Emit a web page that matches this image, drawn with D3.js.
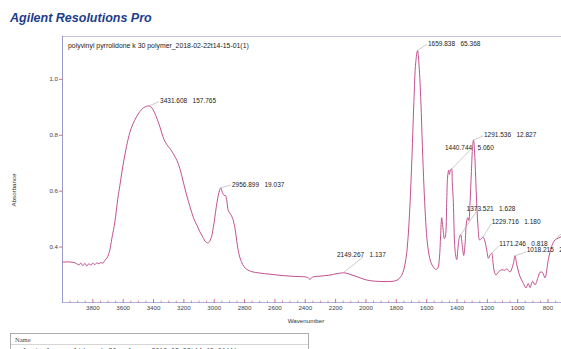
<!DOCTYPE html>
<html>
<head>
<meta charset="utf-8">
<script src="https://cdn.jsdelivr.net/npm/d3@7"></script>
<style>
  body { margin: 0; background: #fff; overflow: hidden; }
  svg { display: block; font-family: 'Liberation Sans', Arial, sans-serif; }
</style>
</head>
<body>
<div id="chart"></div>
<script>
// spectrum: wavenumber (cm-1) and absorbance
const wavenumber = [4004, 3965, 3925, 3905, 3892, 3879, 3866, 3853, 3840, 3826, 3813, 3800, 3787, 3774, 3760, 3747, 3734, 3721, 3708, 3698,
  3688, 3675, 3655, 3635, 3622, 3602, 3578, 3556, 3536, 3513, 3490, 3467, 3444, 3431, 3418, 3404, 3385, 3358, 3338, 3322,
  3306, 3286, 3266, 3246, 3226, 3207, 3184, 3160, 3137, 3114, 3095, 3075, 3055, 3039, 3022, 3006, 2986, 2969, 2957, 2946,
  2936, 2926, 2917, 2907, 2893, 2880, 2864, 2851, 2837, 2821, 2804, 2785, 2752, 2699, 2633, 2547, 2468, 2396, 2379, 2369,
  2359, 2343, 2303, 2237, 2191, 2149, 2125, 2092, 2053, 2013, 1974, 1908, 1842, 1802, 1776, 1756, 1736, 1723, 1710, 1697,
  1684, 1672, 1660, 1650, 1638, 1628, 1618, 1608, 1598, 1585, 1572, 1555, 1539, 1526, 1516, 1508, 1501, 1493, 1483,
  1476, 1468, 1462, 1455, 1450, 1443, 1436, 1431, 1424, 1413, 1402, 1393, 1386, 1376, 1366, 1356, 1347, 1337, 1329, 1322,
  1314, 1305, 1297, 1291, 1284, 1277, 1270, 1261, 1251, 1241, 1228, 1218, 1204, 1193, 1182, 1171, 1163, 1153, 1143, 1128,
  1105, 1084, 1071, 1051, 1029, 1018, 1005, 985, 963, 945, 930, 919, 901, 886, 864, 853, 837, 820, 798, 776,
  754, 732, 714, 694];
const absorbance = [0.346, 0.347, 0.345, 0.340, 0.336, 0.343, 0.333, 0.342, 0.332, 0.341, 0.335, 0.343, 0.337, 0.344, 0.340, 0.345, 0.342, 0.352, 0.360, 0.372,
  0.390, 0.430, 0.490, 0.575, 0.620, 0.690, 0.760, 0.810, 0.840, 0.865, 0.885, 0.898, 0.904, 0.905, 0.902, 0.892, 0.870, 0.830, 0.795, 0.775,
  0.762, 0.748, 0.730, 0.710, 0.680, 0.640, 0.590, 0.545, 0.505, 0.478, 0.455, 0.435, 0.418, 0.415, 0.430, 0.470, 0.545, 0.595, 0.612, 0.595,
  0.585, 0.585, 0.565, 0.530, 0.518, 0.505, 0.470, 0.420, 0.375, 0.348, 0.330, 0.320, 0.312, 0.307, 0.303, 0.298, 0.295, 0.293, 0.290, 0.284,
  0.290, 0.294, 0.296, 0.300, 0.305, 0.308, 0.306, 0.300, 0.293, 0.285, 0.280, 0.277, 0.277, 0.280, 0.290, 0.310, 0.360, 0.430, 0.550, 0.720,
  0.920, 1.060, 1.103, 1.050, 0.920, 0.760, 0.620, 0.510, 0.430, 0.375, 0.345, 0.328, 0.320, 0.325, 0.360, 0.440, 0.505, 0.470, 0.430,
  0.440, 0.556, 0.650, 0.675, 0.660, 0.676, 0.680, 0.630, 0.560, 0.390, 0.355, 0.400, 0.430, 0.445, 0.410, 0.370, 0.410, 0.490, 0.505, 0.495,
  0.560, 0.670, 0.760, 0.783, 0.740, 0.650, 0.556, 0.470, 0.425, 0.430, 0.435, 0.425, 0.390, 0.360, 0.372, 0.378, 0.345, 0.310, 0.300, 0.310,
  0.319, 0.317, 0.322, 0.311, 0.340, 0.369, 0.335, 0.295, 0.271, 0.254, 0.270, 0.255, 0.278, 0.265, 0.295, 0.310, 0.310, 0.290, 0.355, 0.402,
  0.426, 0.432, 0.437, 0.440];

// peak picks: position, height and the label text
const peakWave = [3431.608, 2956.899, 2149.267, 1659.838, 1440.744, 1291.536, 1373.521, 1229.716, 1171.246, 1018.215, 754];
const peakAbs = [0.905, 0.612, 0.308, 1.103, 0.676, 0.783, 0.445, 0.435, 0.378, 0.369, 0.426];
const peakArea = ['157.765', '19.037', '1.137', '65.368', '5.060', '12.827', '1.628', '1.180', '0.818', '2.046', '3.412'];

const xTicks = [3800, 3600, 3400, 3200, 3000, 2800, 2600, 2400, 2200, 2000, 1800, 1600, 1400, 1200, 1000, 800];
const yTicks = [0.4, 0.6, 0.8, 1.0];

const sampleName = 'polyvinyl pyrrolidone k 30 polymer_2018-02-22t14-15-01(1)';

// label placement relative to the peak point (pixels):
// leader end dx, dy, then text start dx and text middle dy
const labelOffsets = [[10.3, -4.2, 11.3, -4.9], [10.2, -2.8, 11.2, -3.3], [19.7, -15.8, -6.3, -18.5],
  [9.4, -6.4, 10.4, -6.9], [19.5, -20, -5.8, -22.6], [9.5, -4, 10.5, -5], [15, -22.5, 5.6, -26.2],
  [8.2, -13.3, 8.9, -15.6], [6.8, -7.2, 7.6, -9.2], [11.1, -3.8, 11.8, -5.8], [8, -7.8, 10, -9.8]];

const w = 561;
const h = 349;

const x = d3.scaleLinear().domain([4000, 700]).range([62.5, 563.2]);
const y = d3.scaleLinear().domain([0.2, 1.155]).range([303, 36]);

const svg = d3.select('#chart').append('svg')
    .attr('width', w)
    .attr('height', h);

// heading
svg.append('text')
    .attr('x', 10)
    .attr('y', 22)
    .attr('fill', '#1d3d8c')
    .attr('font-size', 12.5)
    .attr('font-weight', 'bold')
    .attr('font-style', 'italic')
    .text('Agilent Resolutions Pro');

svg.append('defs').append('clipPath').attr('id', 'plot')
    .append('rect')
    .attr('x', 62.5).attr('y', 36).attr('width', w - 62.5).attr('height', 267);

// frame
svg.append('line').attr('x1', 62.5).attr('x2', w).attr('y1', 36.5).attr('y2', 36.5)
    .attr('stroke', '#c4c4e2');
svg.append('line').attr('x1', 62.5).attr('x2', 62.5).attr('y1', 36).attr('y2', 303)
    .attr('stroke', '#9a9acf');
svg.append('line').attr('x1', 62.5).attr('x2', w).attr('y1', 302.5).attr('y2', 302.5)
    .attr('stroke', '#aeaedb');

svg.append('text')
    .attr('x', 68)
    .attr('y', 48)
    .attr('font-size', 6.9)
    .attr('fill', '#222')
    .text(sampleName);

// x ticks: minor every 50, major every 200
const minor = d3.range(3950, 650, -50).filter((d) => xTicks.indexOf(d) < 0);
svg.append('g').selectAll('line')
    .data(minor)
    .enter()
    .append('line')
    .attr('x1', (d) => x(d)).attr('x2', (d) => x(d))
    .attr('y1', 300.5).attr('y2', 303)
    .attr('stroke', '#d47a9c')
    .attr('stroke-width', 0.8);

const xg = svg.append('g');
xg.selectAll('line')
    .data(xTicks)
    .enter()
    .append('line')
    .attr('x1', (d) => x(d)).attr('x2', (d) => x(d))
    .attr('y1', 299).attr('y2', 303)
    .attr('stroke', '#d0607e')
    .attr('stroke-width', 0.9);
xg.selectAll('text')
    .data(xTicks)
    .enter()
    .append('text')
    .attr('x', (d) => x(d))
    .attr('y', 310)
    .attr('text-anchor', 'middle')
    .attr('font-size', 6.2)
    .attr('fill', '#444')
    .text((d) => d);

const yg = svg.append('g');
yg.selectAll('line')
    .data(yTicks)
    .enter()
    .append('line')
    .attr('x1', 59).attr('x2', 62.5)
    .attr('y1', (d) => y(d)).attr('y2', (d) => y(d))
    .attr('stroke', '#d0607e')
    .attr('stroke-width', 0.9);
yg.selectAll('text')
    .data(yTicks)
    .enter()
    .append('text')
    .attr('x', 58)
    .attr('y', (d) => y(d) + 2)
    .attr('text-anchor', 'end')
    .attr('font-size', 6.2)
    .attr('fill', '#444')
    .text((d) => d.toFixed(1));

// axis titles
svg.append('text')
    .attr('x', 306)
    .attr('y', 323)
    .attr('text-anchor', 'middle')
    .attr('font-size', 6.2)
    .attr('fill', '#333')
    .text('Wavenumber');
svg.append('text')
    .attr('transform', 'translate(16,190) rotate(-90)')
    .attr('text-anchor', 'middle')
    .attr('font-size', 6.2)
    .attr('fill', '#333')
    .text('Absorbance');

// spectrum
const spectrum = wavenumber.map((d, i) => [d, absorbance[i]]);
const line = d3.line()
    .x((d) => x(d[0]))
    .y((d) => y(d[1]))
    .curve(d3.curveCatmullRom);

svg.append('path')
    .datum(spectrum)
    .attr('clip-path', 'url(#plot)')
    .attr('fill', 'none')
    .attr('stroke', '#c2518f')
    .attr('stroke-width', 1)
    .attr('d', line);

// peak labels with leader lines
const peaks = peakWave.map((d, i) => ({wave: d, abs: peakAbs[i], area: peakArea[i], off: labelOffsets[i]}));
const pg = svg.append('g');
pg.selectAll('line')
    .data(peaks)
    .enter()
    .append('line')
    .attr('x1', (d) => x(d.wave))
    .attr('y1', (d) => y(d.abs))
    .attr('x2', (d) => x(d.wave) + d.off[0])
    .attr('y2', (d) => y(d.abs) + d.off[1])
    .attr('stroke', '#aaa')
    .attr('stroke-width', 0.6);
pg.selectAll('text')
    .data(peaks)
    .enter()
    .append('text')
    .attr('x', (d) => x(d.wave) + d.off[2])
    .attr('y', (d) => y(d.abs) + d.off[3] + 2.3)
    .attr('font-size', 6.5)
    .attr('fill', '#222')
    .attr('xml:space', 'preserve')
    .text((d) => d.wave.toFixed(3) + '   ' + d.area);

// sample table (cut off at the bottom)
svg.append('rect')
    .attr('x', 10.5).attr('y', 333.5).attr('width', 298).attr('height', 30)
    .attr('fill', 'none').attr('stroke', '#999').attr('stroke-width', 0.8);
svg.append('line')
    .attr('x1', 10.5).attr('x2', 308.5).attr('y1', 344.5).attr('y2', 344.5)
    .attr('stroke', '#bbb').attr('stroke-width', 0.6);
svg.append('text')
    .attr('x', 15).attr('y', 342)
    .attr('font-family', 'Liberation Serif, serif')
    .attr('font-size', 6.5).attr('fill', '#444')
    .text('Name');
svg.append('text')
    .attr('x', 15).attr('y', 353)
    .attr('font-family', 'Liberation Mono, monospace')
    .attr('font-size', 6.5).attr('fill', '#444')
    .text(sampleName);
</script>
</body>
</html>
